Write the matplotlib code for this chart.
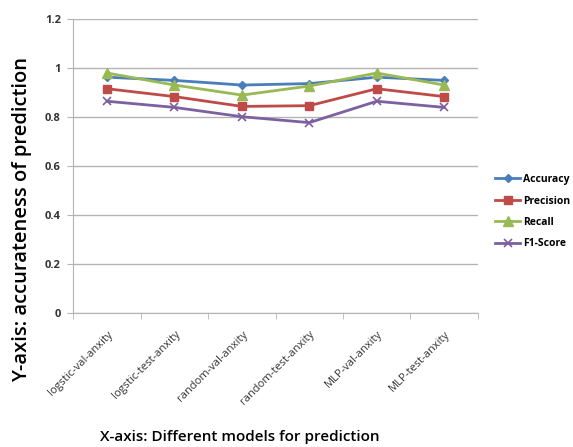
import matplotlib
matplotlib.use("Agg")
import matplotlib.pyplot as plt
from matplotlib.ticker import FixedLocator, NullFormatter

plt.rcParams["font.family"] = ["Open Sans", "DejaVu Sans"]

models = [
    "logstic-val-anxity",
    "logstic-test-anxity",
    "random-val-anxity",
    "random-test-anxity",
    "MLP-val-anxity",
    "MLP-test-anxity",
]
accuracy = [0.962, 0.949, 0.930, 0.936, 0.962, 0.949]
precision = [0.915, 0.883, 0.843, 0.846, 0.915, 0.883]
recall = [0.979, 0.930, 0.889, 0.926, 0.979, 0.930]
f1_score = [0.864, 0.839, 0.801, 0.777, 0.864, 0.839]

series = [
    ("Accuracy", accuracy, "#4a7ebb", "D", 4),
    ("Precision", precision, "#be4b48", "s", 6),
    ("Recall", recall, "#98b954", "^", 7),
    ("F1-Score", f1_score, "#7d60a0", "x", 6),
]

fig = plt.figure(figsize=(5.73, 4.47), dpi=100)
ax = fig.add_axes([0.128, 0.299, 0.706, 0.659])

x = list(range(len(models)))
for name, vals, color, marker, ms in series:
    ax.plot(x, vals, color=color, marker=marker, markersize=ms, linewidth=2,
            markeredgewidth=1 if marker != "x" else 1.2, label=name, zorder=3)

ax.set_xlim(-0.5, len(models) - 0.5)
ax.set_ylim(0, 1.2)
ax.set_yticks([0, 0.2, 0.4, 0.6, 0.8, 1.0, 1.2])
ax.set_yticklabels(["0", "0.2", "0.4", "0.6", "0.8", "1", "1.2"],
                   fontsize=8, fontweight="bold", color="#333333")
ax.yaxis.grid(True, color="#b4b4b4", linewidth=1)
ax.set_axisbelow(True)

ax.set_xticks(x)
ax.set_xticklabels(models, rotation=45, ha="right", rotation_mode="anchor",
                   fontsize=8, color="#333333")
ax.tick_params(axis="x", which="major", length=0, pad=11)
ax.xaxis.set_minor_locator(FixedLocator([i + 0.5 for i in range(-1, len(models))]))
ax.xaxis.set_minor_formatter(NullFormatter())
ax.tick_params(axis="x", which="minor", length=4, color="#b4b4b4")
ax.tick_params(axis="y", length=4, color="#b4b4b4", pad=5)

for side in ["top", "right"]:
    ax.spines[side].set_visible(False)
for side in ["left", "bottom"]:
    ax.spines[side].set_color("#b4b4b4")

fig.text(0.038, 0.51, "Y-axis: accurateness of prediction", rotation=90,
         ha="center", va="center", fontsize=14.5, fontweight="semibold")
fig.text(0.419, 0.022, "X-axis: Different models for prediction", ha="center",
         va="center", fontsize=11, fontweight="semibold")

leg = ax.legend(loc="center left", bbox_to_anchor=(1.02, 0.345), frameon=False,
                fontsize=7.5, handlelength=2.4, handletextpad=0.3, labelspacing=1.0)
for t in leg.get_texts():
    t.set_fontweight("bold")

fig.savefig("out.png", dpi=100)
